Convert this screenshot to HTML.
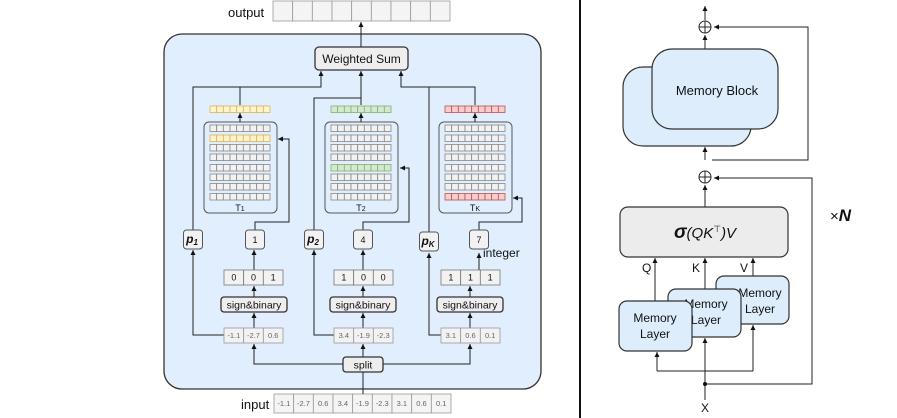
<!DOCTYPE html>
<html><head><meta charset="utf-8"><style>
html,body{margin:0;padding:0;background:#fff}
svg{display:block}
text{font-family:"Liberation Sans",sans-serif;fill:#111}
</style></head><body>
<svg id="s" width="897" height="418" viewBox="0 0 897 418" xmlns="http://www.w3.org/2000/svg">
<defs><marker id="a" markerWidth="6" markerHeight="6" refX="5" refY="3" orient="auto" markerUnits="userSpaceOnUse"><path d="M0,0.5 L5,3 L0,5.5 Z" fill="#111"/></marker></defs>
<!-- left big box -->
<rect x="164" y="34" width="377" height="355" rx="18" fill="#e1eefd" stroke="#333" stroke-width="1.3"/>
<text x="228" y="17" font-size="13">output</text>
<text x="241" y="409" font-size="13">input</text>
<g id="cells"></g>
<rect x="315" y="47" width="93" height="23" rx="4" fill="#eee" stroke="#333" stroke-width="1.3"/>
<text x="361.5" y="63" font-size="12" text-anchor="middle">Weighted Sum</text>
<g fill="none" stroke="#222" stroke-width="1">
<path d="M361,47 V22" marker-end="url(#a)"/>
<path d="M193,230 V87 H321 V71" marker-end="url(#a)"/>
<path d="M240,87 V105"/>
<path d="M240,122 V113" marker-end="url(#a)"/>
<path d="M361,105 V71" marker-end="url(#a)"/>
<path d="M314,230 V98 H361"/>
<path d="M361,122 V113" marker-end="url(#a)"/>
<path d="M429,232 V87 H401 V71" marker-end="url(#a)"/>
<path d="M475,105 V87 H429"/>
<path d="M475,122 V113" marker-end="url(#a)"/>
<path d="M255,230 V222 H289 V139 H278" marker-end="url(#a)"/>
<path d="M363,230 V222 H409 V168 H400" marker-end="url(#a)"/>
<path d="M479,230 V222 H522 V198 H513" marker-end="url(#a)"/>
<path d="M224,335 H193 V250" marker-end="url(#a)"/>
<path d="M334,335 H314 V250" marker-end="url(#a)"/>
<path d="M441,335 H429 V253" marker-end="url(#a)"/>
<path d="M343,364 H254 V344" marker-end="url(#a)"/>
<path d="M383,364 H470 V344" marker-end="url(#a)"/>
<path d="M363,357 V344" marker-end="url(#a)"/>
<path d="M363,394 V372"/>
<path d="M254,328 V313" marker-end="url(#a)"/><path d="M254,297 V286" marker-end="url(#a)"/><path d="M254,270 V250" marker-end="url(#a)"/>
<path d="M363,328 V313" marker-end="url(#a)"/><path d="M363,297 V286" marker-end="url(#a)"/><path d="M363,270 V250" marker-end="url(#a)"/>
<path d="M470,328 V313" marker-end="url(#a)"/><path d="M470,297 V286" marker-end="url(#a)"/><path d="M479,270 V253" marker-end="url(#a)"/>
</g>
<g id="boxes"></g>
<text x="483" y="257" font-size="12">integer</text>
<line x1="580" y1="0" x2="580" y2="418" stroke="#111" stroke-width="2"/>
<!-- right -->
<g fill="none" stroke="#222" stroke-width="1">
<path d="M705,20 V6" marker-end="url(#a)"/>
<path d="M705,49 V35" marker-end="url(#a)"/>
<path d="M712,160 H808 V27 H714" marker-end="url(#a)"/>
<path d="M705,160 V147" marker-end="url(#a)"/>
<path d="M705,207 V185" marker-end="url(#a)"/>
<path d="M705,384 H812 V178 H714" marker-end="url(#a)"/>
<path d="M655,301 V258" marker-end="url(#a)"/>
<path d="M705,289 V258" marker-end="url(#a)"/>
<path d="M753,276 V258" marker-end="url(#a)"/>
<path d="M705,400 V338" marker-end="url(#a)"/>
<path d="M657,371 H753"/>
<path d="M657,371 V352" marker-end="url(#a)"/>
<path d="M753,371 V325" marker-end="url(#a)"/>
<circle cx="705" cy="27" r="6"/><path d="M699,27 H711 M705,21 V33"/>
<circle cx="705" cy="177" r="6"/><path d="M699,177 H711 M705,171 V183"/>
</g>
<circle cx="705" cy="384" r="2" fill="#111"/>
<rect x="623" y="67" width="128" height="79" rx="20" fill="#deedfc" stroke="#333" stroke-width="1.2"/>
<rect x="652" y="49" width="126" height="80" rx="20" fill="#deedfc" stroke="#333" stroke-width="1.2"/>
<text x="717" y="95" font-size="13" text-anchor="middle">Memory Block</text>
<rect x="620" y="207" width="168" height="50" rx="8" fill="#ececec" stroke="#333" stroke-width="1.2"/>
<text x="705" y="238" font-size="15" text-anchor="middle" font-family="Liberation Serif" font-style="italic"><tspan font-weight="bold" font-size="19">σ</tspan>(QK<tspan font-size="9" dy="-6" font-style="normal">⊤</tspan><tspan dy="6">)V</tspan></text>
<text x="642" y="272" font-size="12">Q</text><text x="692" y="272" font-size="12">K</text><text x="740" y="272" font-size="12">V</text>
<rect x="716" y="276" width="73" height="48" rx="8" fill="#deedfc" stroke="#333" stroke-width="1.2"/>
<text x="760" y="297" font-size="12" text-anchor="middle">Memory</text><text x="760" y="313" font-size="12" text-anchor="middle">Layer</text>
<rect x="668" y="289" width="73" height="48" rx="8" fill="#deedfc" stroke="#333" stroke-width="1.2"/>
<text x="706" y="308" font-size="12" text-anchor="middle">Memory</text><text x="706" y="324" font-size="12" text-anchor="middle">Layer</text>
<rect x="619" y="301" width="73" height="50" rx="8" fill="#deedfc" stroke="#333" stroke-width="1.2"/>
<text x="655" y="322" font-size="12" text-anchor="middle">Memory</text><text x="655" y="338" font-size="12" text-anchor="middle">Layer</text>
<text x="705" y="412" font-size="12" text-anchor="middle">X</text>
<text x="830" y="221" font-size="15" font-family="Liberation Serif">×<tspan font-style="italic" font-weight="bold" font-size="17">N</tspan></text>
</svg>
<script>
const NS="http://www.w3.org/2000/svg";
const cg=document.getElementById('cells'),bg=document.getElementById('boxes');
function el(p,t,a,txt){const e=document.createElementNS(NS,t);for(const k in a)e.setAttribute(k,a[k]);if(txt!==undefined)e.textContent=txt;p.appendChild(e);return e;}
function strip(p,x,y,w,h,n,fill,stroke,labels,fs,tcol){const cw=w/n;for(let i=0;i<n;i++){el(p,'rect',{x:x+i*cw,y:y,width:cw,height:h,fill:fill,stroke:stroke,'stroke-width':0.8});if(labels)el(p,'text',{x:x+i*cw+cw/2,y:y+h/2+fs*0.36,'font-size':fs,'text-anchor':'middle',style:'fill:'+tcol},labels[i]);}}
strip(cg,273,1,177,20,9,'#f4f4f4','#999');
strip(cg,274,394,177,19,9,'#f4f4f4','#999',['-1.1','-2.7','0.6','3.4','-1.9','-2.3','3.1','0.6','0.1'],7.5,'#666');
const T=[{x:204,hl:1,f:'#fff2cc',s:'#d6b656',lab:'T',sub:'1'},{x:325,hl:4,f:'#d5e8d4',s:'#82b366',lab:'T',sub:'2'},{x:439,hl:7,f:'#f8cecc',s:'#b85450',lab:'T',sub:'K'}];
const rows=[125,135,144.5,154,164.5,174,183.5,193.5];
T.forEach(t=>{
 el(cg,'rect',{x:t.x,y:122,width:73,height:91,rx:5,fill:'#e1eefd',stroke:'#555','stroke-width':1});
 strip(cg,t.x+6,106,60,6.5,9,t.f,t.s);
 rows.forEach((y,i)=>strip(cg,t.x+6,y,60,6.5,9,i==t.hl?t.f:'#f2f2f2',i==t.hl?t.s:'#888'));
 const tx=el(cg,'text',{x:t.x+36,y:211,'font-size':9,'text-anchor':'middle'},t.lab);
 el(tx,'tspan',{'font-size':7},t.sub);
});
const cols=[{c:254,p:193,n:'1',b:['0','0','1'],v:['-1.1','-2.7','0.6'],pl:'1',py:230,vx:224},{c:363,p:314,n:'4',b:['1','0','0'],v:['3.4','-1.9','-2.3'],pl:'2',py:230,vx:334},{c:470,p:429,n:'7',b:['1','1','1'],v:['3.1','0.6','0.1'],pl:'K',py:232,vx:441}];
cols.forEach((c,i)=>{
 const nx=i==2?479:c.c+(i==0?1:0);
 el(bg,'rect',{x:c.p-9.5,y:c.py,width:19,height:19,rx:3,fill:'#f2f2f2',stroke:'#555'});
 const pt=el(bg,'text',{x:c.p-1,y:c.py+13,'font-size':12,'text-anchor':'middle','font-family':'Liberation Serif','font-style':'italic','font-weight':'bold'},'p');
 el(pt,'tspan',{'font-size':8,dy:2},c.pl);
 el(bg,'rect',{x:nx-9.5,y:230,width:19,height:19,rx:3,fill:'#f2f2f2',stroke:'#555'});
 el(bg,'text',{x:nx,y:243,'font-size':9,'text-anchor':'middle'},c.n);
 strip(bg,c.vx,270,59,15,3,'#f2f2f2','#777',c.b,9,'#111');
 el(bg,'rect',{x:c.c-33,y:297,width:66,height:15,rx:3,fill:'#eee',stroke:'#333','stroke-width':1.3});
 el(bg,'text',{x:c.c,y:308.5,'font-size':10.5,'text-anchor':'middle'},'sign&binary');
 strip(bg,c.vx,328,59,15,3,'#f2f2f2','#999',c.v,7.5,'#666');
});
el(bg,'rect',{x:343,y:357,width:40,height:15,rx:3,fill:'#eee',stroke:'#333','stroke-width':1.3});
el(bg,'text',{x:363,y:368.5,'font-size':10.5,'text-anchor':'middle'},'split');
</script>
</body></html>
